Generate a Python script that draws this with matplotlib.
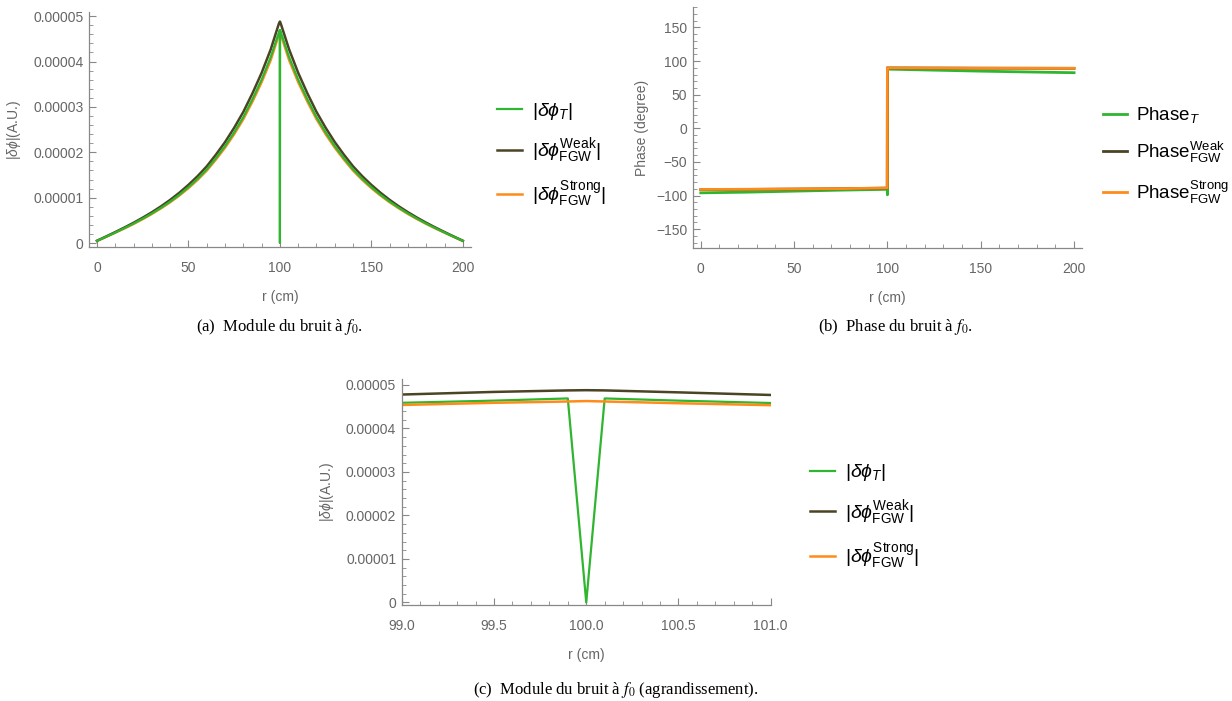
import matplotlib.pyplot as plt
from matplotlib.ticker import MultipleLocator, FuncFormatter

# rayon (cm) pour le module du bruit
r_mod = [0, 5, 10, 15, 20, 25, 30, 35, 40, 45, 50, 55, 60, 65, 70, 75, 80, 85, 90, 95,
         99, 99.5, 99.9, 100, 100.1, 100.5, 101,
         105, 110, 115, 120, 125, 130, 135, 140, 145, 150, 155, 160, 165, 170, 175, 180, 185, 190, 195, 200]

# module (en 1e-5 A.U.)
mod_T = [0.048, 0.139, 0.232, 0.328, 0.429, 0.537, 0.652, 0.777, 0.913, 1.064, 1.231, 1.415, 1.622, 1.869,
         2.135, 2.438, 2.774, 3.168, 3.600, 4.099,
         4.59, 4.64, 4.69, 0.0, 4.69, 4.64, 4.585,
         4.099, 3.600, 3.168, 2.774, 2.438, 2.135, 1.869, 1.622, 1.415, 1.231, 1.064, 0.913, 0.777, 0.652,
         0.537, 0.429, 0.328, 0.232, 0.139, 0.048]
mod_weak = [0.05, 0.145, 0.242, 0.342, 0.447, 0.559, 0.679, 0.809, 0.951, 1.108, 1.282, 1.474, 1.69, 1.947,
            2.224, 2.54, 2.89, 3.30, 3.75, 4.27,
            4.78, 4.84, 4.875, 4.88, 4.875, 4.83, 4.77,
            4.27, 3.75, 3.30, 2.89, 2.54, 2.224, 1.947, 1.69, 1.474, 1.282, 1.108, 0.951, 0.809, 0.679,
            0.559, 0.447, 0.342, 0.242, 0.145, 0.05]
mod_strong = [0.047, 0.137, 0.229, 0.323, 0.422, 0.528, 0.642, 0.765, 0.899, 1.047, 1.211, 1.393, 1.597, 1.840,
              2.102, 2.400, 2.731, 3.119, 3.544, 4.035,
              4.54, 4.59, 4.62, 4.63, 4.62, 4.58, 4.535,
              4.035, 3.544, 3.119, 2.731, 2.400, 2.102, 1.840, 1.597, 1.393, 1.211, 1.047, 0.899, 0.765, 0.642,
              0.528, 0.422, 0.323, 0.229, 0.137, 0.047]

# phase (degres)
r_phase = [0, 25, 50, 75, 99.9, 100, 100.1, 125, 150, 175, 200]
phase_T = [-96, -95, -93.5, -92, -90.8, -99, 88, 86.5, 85, 83.8, 82.7]
phase_weak = [-91.2, -90.9, -90.4, -89.9, -89, 90, 89.8, 89.6, 89.4, 89.3, 89.2]
phase_strong = [-91, -90.7, -90.3, -89.8, -88.8, 90, 89.8, 89.6, 89.4, 89.3, 89.2]

GREEN = '#2fb52f'
WEAK = '#4a4424'
ORANGE = '#ff8c1a'
GRAY = '#666666'

plt.rcParams['font.family'] = ['Liberation Sans', 'DejaVu Sans']
plt.rcParams['mathtext.fontset'] = 'custom'
plt.rcParams['mathtext.rm'] = 'Liberation Sans'
plt.rcParams['mathtext.it'] = 'Liberation Sans:italic'
plt.rcParams['mathtext.bf'] = 'Liberation Sans:bold'
plt.rcParams['mathtext.fallback'] = 'stixsans'

fig = plt.figure(figsize=(12.32, 7.01), dpi=100)


def style_axes(ax):
    for s in ['top', 'right']:
        ax.spines[s].set_visible(False)
    for s in ['left', 'bottom']:
        ax.spines[s].set_color('#888888')
        ax.spines[s].set_linewidth(0.9)
    ax.tick_params(which='both', direction='in', colors='#888888', labelcolor=GRAY, labelsize=10)
    ax.tick_params(axis='x', pad=10)
    ax.tick_params(axis='y', pad=4)
    ax.tick_params(which='major', length=5)
    ax.tick_params(which='minor', length=3)


def mod_fmt(v, pos):
    if abs(v) < 1e-9:
        return '0'
    return '%.5f' % (v * 1e-5)


leg_mod = [r'$|\delta\phi_T|$', r'$|\delta\phi_{\mathrm{FGW}}^{\mathrm{Weak}}|$',
           r'$|\delta\phi_{\mathrm{FGW}}^{\mathrm{Strong}}|$']
leg_phase = [r'Phase$_T$', r'Phase$_{\mathrm{FGW}}^{\mathrm{Weak}}$', r'Phase$_{\mathrm{FGW}}^{\mathrm{Strong}}$']
leg_kw = dict(loc='center left', bbox_transform=fig.transFigure, frameon=False, labelspacing=0.75)

# (a) module
ax1 = fig.add_axes([0.0722, 0.6476, 0.310, 0.3352])
l3, = ax1.plot(r_mod, mod_strong, color=ORANGE, lw=1.8)
l2, = ax1.plot(r_mod, mod_weak, color=WEAK, lw=1.8)
l1, = ax1.plot(r_mod, mod_T, color=GREEN, lw=1.6)
ax1.set_xlim(-4.4, 204.4)
ax1.set_ylim(-0.088, 5.09)
ax1.xaxis.set_major_locator(MultipleLocator(50))
ax1.xaxis.set_minor_locator(MultipleLocator(10))
ax1.yaxis.set_major_locator(MultipleLocator(1))
ax1.yaxis.set_minor_locator(MultipleLocator(0.2))
ax1.yaxis.set_major_formatter(FuncFormatter(mod_fmt))
style_axes(ax1)
ax1.set_xlabel('r (cm)', color=GRAY, fontsize=10, labelpad=11)
ax1.set_ylabel(r'$|\delta\phi|$(A.U.)', color=GRAY, fontsize=10)
ax1.yaxis.set_label_coords(-0.173, 0.5)
ax1.legend([l1, l2, l3], leg_mod, bbox_to_anchor=(0.3892, 0.779), fontsize=14,
           handlelength=1.29, handletextpad=0.5, **leg_kw)

# (b) phase
ax2 = fig.add_axes([0.5623, 0.6458, 0.3157, 0.3438])
p1, = ax2.plot(r_phase, phase_T, color=GREEN, lw=2.0)
p2, = ax2.plot(r_phase, phase_weak, color=WEAK, lw=2.0)
p3, = ax2.plot(r_phase, phase_strong, color=ORANGE, lw=2.0)
ax2.set_xlim(-4.3, 204.1)
ax2.set_ylim(-178.5, 180)
ax2.xaxis.set_major_locator(MultipleLocator(50))
ax2.xaxis.set_minor_locator(MultipleLocator(10))
ax2.yaxis.set_major_locator(MultipleLocator(50))
ax2.yaxis.set_minor_locator(MultipleLocator(10))
style_axes(ax2)
ax2.set_xlabel('r (cm)', color=GRAY, fontsize=10, labelpad=11)
ax2.set_ylabel('Phase (degree)', color=GRAY, fontsize=10)
ax2.yaxis.set_label_coords(-0.112, 0.5)
ax2.legend([p1, p2, p3], leg_phase, bbox_to_anchor=(0.882, 0.778), fontsize=13.5,
           handlelength=1.28, handletextpad=0.45, **leg_kw)

# (c) agrandissement
ax3 = fig.add_axes([0.3261, 0.1369, 0.2995, 0.322])
c1, = ax3.plot(r_mod, mod_T, color=GREEN, lw=1.6)
c2, = ax3.plot(r_mod, mod_weak, color=WEAK, lw=1.8)
c3, = ax3.plot(r_mod, mod_strong, color=ORANGE, lw=1.8)
ax3.set_xlim(99, 101)
ax3.set_ylim(-0.06, 5.13)
ax3.xaxis.set_major_locator(MultipleLocator(0.5))
ax3.xaxis.set_minor_locator(MultipleLocator(0.1))
ax3.xaxis.set_major_formatter(FuncFormatter(lambda v, p: '%.1f' % v))
ax3.yaxis.set_major_locator(MultipleLocator(1))
ax3.yaxis.set_minor_locator(MultipleLocator(0.2))
ax3.yaxis.set_major_formatter(FuncFormatter(mod_fmt))
style_axes(ax3)
ax3.set_xlabel('r (cm)', color=GRAY, fontsize=10, labelpad=11)
ax3.set_ylabel(r'$|\delta\phi|$(A.U.)', color=GRAY, fontsize=10)
ax3.yaxis.set_label_coords(-0.178, 0.5)
ax3.legend([c1, c2, c3], leg_mod, bbox_to_anchor=(0.6431, 0.263), fontsize=14,
           handlelength=1.29, handletextpad=0.5, **leg_kw)

# legendes des sous-figures
cap = dict(ha='center', va='center', fontsize=12, family='Liberation Serif', math_fontfamily='stix')
fig.text(0.227, 0.5335, r'(a)  Module du bruit à $f_0$.', **cap)
fig.text(0.727, 0.5335, r'(b)  Phase du bruit à $f_0$.', **cap)
fig.text(0.5, 0.0155, r'(c)  Module du bruit à $f_0$ (agrandissement).', **cap)

fig.savefig('out.png', dpi=100)
